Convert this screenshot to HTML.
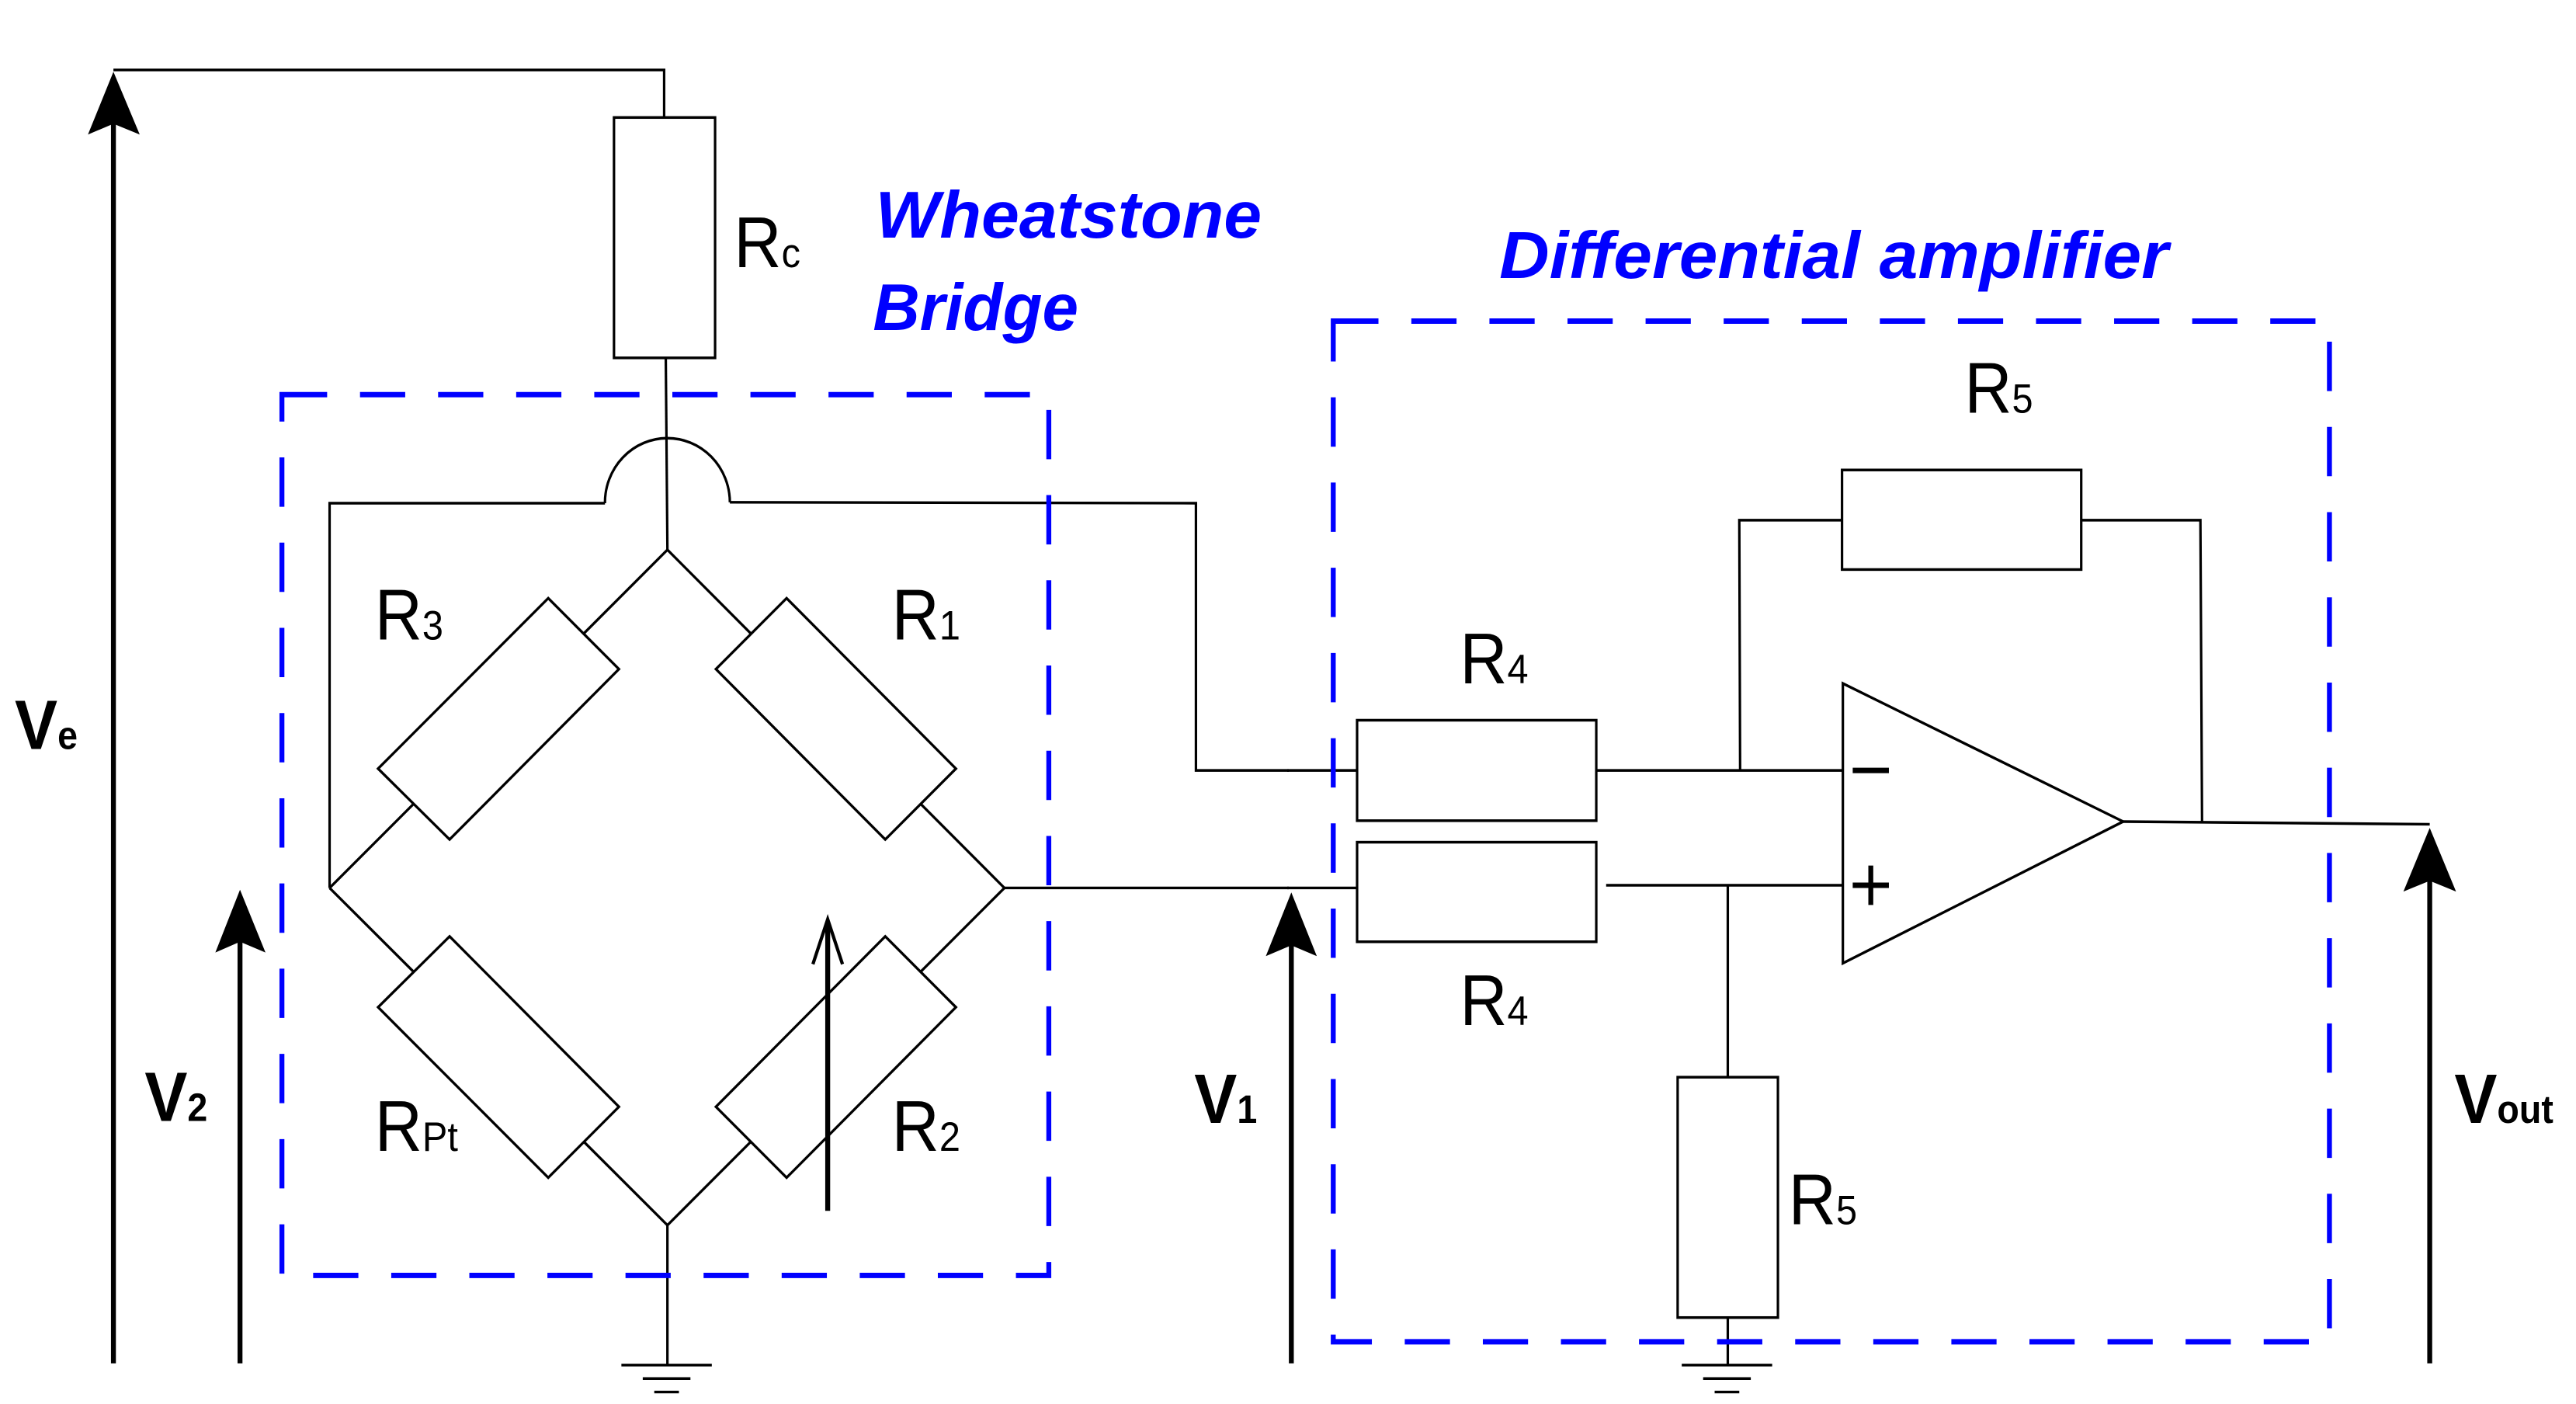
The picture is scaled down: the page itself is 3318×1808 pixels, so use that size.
<!DOCTYPE html>
<html><head><meta charset="utf-8"><style>html,body{margin:0;padding:0;background:#fff}svg{display:block}text{font-family:"Liberation Sans",sans-serif}</style></head>
<body>
<svg width="3318" height="1808" xmlns="http://www.w3.org/2000/svg">
<g transform="scale(1.0587,1.155)" fill="none" stroke="#000" stroke-width="3">
 <line x1="138" y1="1520" x2="138" y2="120" stroke-width="6"/>
 <path d="M138,80 L170,150 L138,138 L107,150 Z" fill="#000" stroke="none"/>
 <polyline points="138,78 808,78 808,131"/>
 <rect x="747" y="131" width="123" height="268"/>
 <line x1="810" y1="399" x2="812" y2="613"/>
 <polyline points="401,990 401,561 736,561"/>
 <path d="M736,561 A76,72 0 0 1 888,560"/>
 <polyline points="888,560 1455,561 1455,859 1568,859"/>
 <line x1="1222" y1="990" x2="1568" y2="990"/>
 <polyline points="401,990 812,613 1222,990 812,1366 401,990"/>
 <g fill="#fff">
  <polygon points="460,857 667,667 753,746 547,936"/>
  <polygon points="957,667 1163,857 1077,936 871,746"/>
  <polygon points="460,1123 547,1044 753,1234 667,1313"/>
  <polygon points="871,1234 1077,1044 1163,1123 957,1313"/>
 </g>
 <line x1="1007" y1="1350" x2="1007" y2="1030" stroke-width="6"/>
 <polyline points="989,1075 1007,1025 1025,1075" stroke-width="4"/>
 <line x1="812" y1="1366" x2="812" y2="1522"/>
 <line x1="756" y1="1522" x2="866" y2="1522"/>
 <line x1="782" y1="1537" x2="840" y2="1537"/>
 <line x1="796" y1="1552" x2="826" y2="1552"/>
 <line x1="292" y1="1520" x2="292" y2="1030" stroke-width="6"/>
 <path d="M292,992 L323,1062 L292,1050 L262,1062 Z" fill="#000" stroke="none"/>
 <rect x="343" y="440" width="933" height="982" stroke="#0000ff" stroke-width="6" stroke-dasharray="55,40"/>
 <g stroke="none" fill="#000">
  <text x="893" y="298" font-size="80">R<tspan font-size="46">c</tspan></text>
  <text x="456" y="713" font-size="80">R<tspan font-size="46">3</tspan></text>
  <text x="1085" y="713" font-size="80">R<tspan font-size="46">1</tspan></text>
  <text x="456" y="1283" font-size="80">R<tspan font-size="46">Pt</tspan></text>
  <text x="1085" y="1283" font-size="80">R<tspan font-size="46">2</tspan></text>
  <text x="18" y="835" font-size="78" font-weight="bold">V<tspan font-size="44">e</tspan></text>
  <text x="176" y="1250" font-size="78" font-weight="bold">V<tspan font-size="44">2</tspan></text>
  <text x="1453" y="1252" font-size="78" font-weight="bold">V<tspan font-size="44">1</tspan></text>
  <text x="1065" y="265" font-size="74" font-weight="bold" font-style="italic" fill="#0000ff" textLength="470" lengthAdjust="spacingAndGlyphs">Wheatstone</text>
  <text x="1062" y="368" font-size="74" font-weight="bold" font-style="italic" fill="#0000ff" textLength="250" lengthAdjust="spacingAndGlyphs">Bridge</text>
 </g>
</g>
<g transform="translate(1658,0) scale(1.0587,1.155)" fill="none" stroke="#000" stroke-width="3">
 <line x1="0" y1="859" x2="85" y2="859"/>
 <line x1="0" y1="990" x2="85" y2="990"/>
 <rect x="85" y="803" width="291" height="112"/>
 <rect x="85" y="939" width="291" height="111"/>
 <line x1="376" y1="859" x2="676" y2="859"/>
 <polyline points="551,859 550,580 675,580"/>
 <rect x="675" y="524" width="291" height="111"/>
 <polyline points="966,580 1111,580 1113,916"/>
 <line x1="388" y1="987" x2="676" y2="987"/>
 <line x1="536" y1="987" x2="536" y2="1201"/>
 <rect x="475" y="1201" width="122" height="268"/>
 <line x1="536" y1="1469" x2="536" y2="1522"/>
 <line x1="480" y1="1522" x2="590" y2="1522"/>
 <line x1="506" y1="1537" x2="564" y2="1537"/>
 <line x1="520" y1="1552" x2="550" y2="1552"/>
 <polygon points="676,762 676,1074 1017,916"/>
 <line x1="688" y1="859" x2="732" y2="859" stroke-width="6"/>
 <line x1="688" y1="987" x2="732" y2="987" stroke-width="6"/>
 <line x1="710" y1="965" x2="710" y2="1009" stroke-width="6"/>
 <line x1="1017" y1="916" x2="1390" y2="919"/>
 <line x1="5" y1="1520" x2="5" y2="1035" stroke-width="6"/>
 <path d="M5,995 L36,1066 L5,1054 L-26,1066 Z" fill="#000" stroke="none"/>
 <line x1="1390" y1="1520" x2="1390" y2="960" stroke-width="6"/>
 <path d="M1390,923 L1422,994 L1390,982 L1358,994 Z" fill="#000" stroke="none"/>
 <rect x="56" y="358" width="1212" height="1138" stroke="#0000ff" stroke-width="6" stroke-dasharray="55,40"/>
 <g stroke="none" fill="#000">
  <text x="824" y="460" font-size="80">R<tspan font-size="46">5</tspan></text>
  <text x="210" y="762" font-size="80">R<tspan font-size="46">4</tspan></text>
  <text x="210" y="1143" font-size="80">R<tspan font-size="46">4</tspan></text>
  <text x="610" y="1365" font-size="80">R<tspan font-size="46">5</tspan></text>
  <text x="1420" y="1252" font-size="78" font-weight="bold">V<tspan font-size="44">out</tspan></text>
  <text x="258" y="310" font-size="74" font-weight="bold" font-style="italic" fill="#0000ff" textLength="814" lengthAdjust="spacingAndGlyphs">Differential amplifier</text>
 </g>
</g>
</svg>
</body></html>
